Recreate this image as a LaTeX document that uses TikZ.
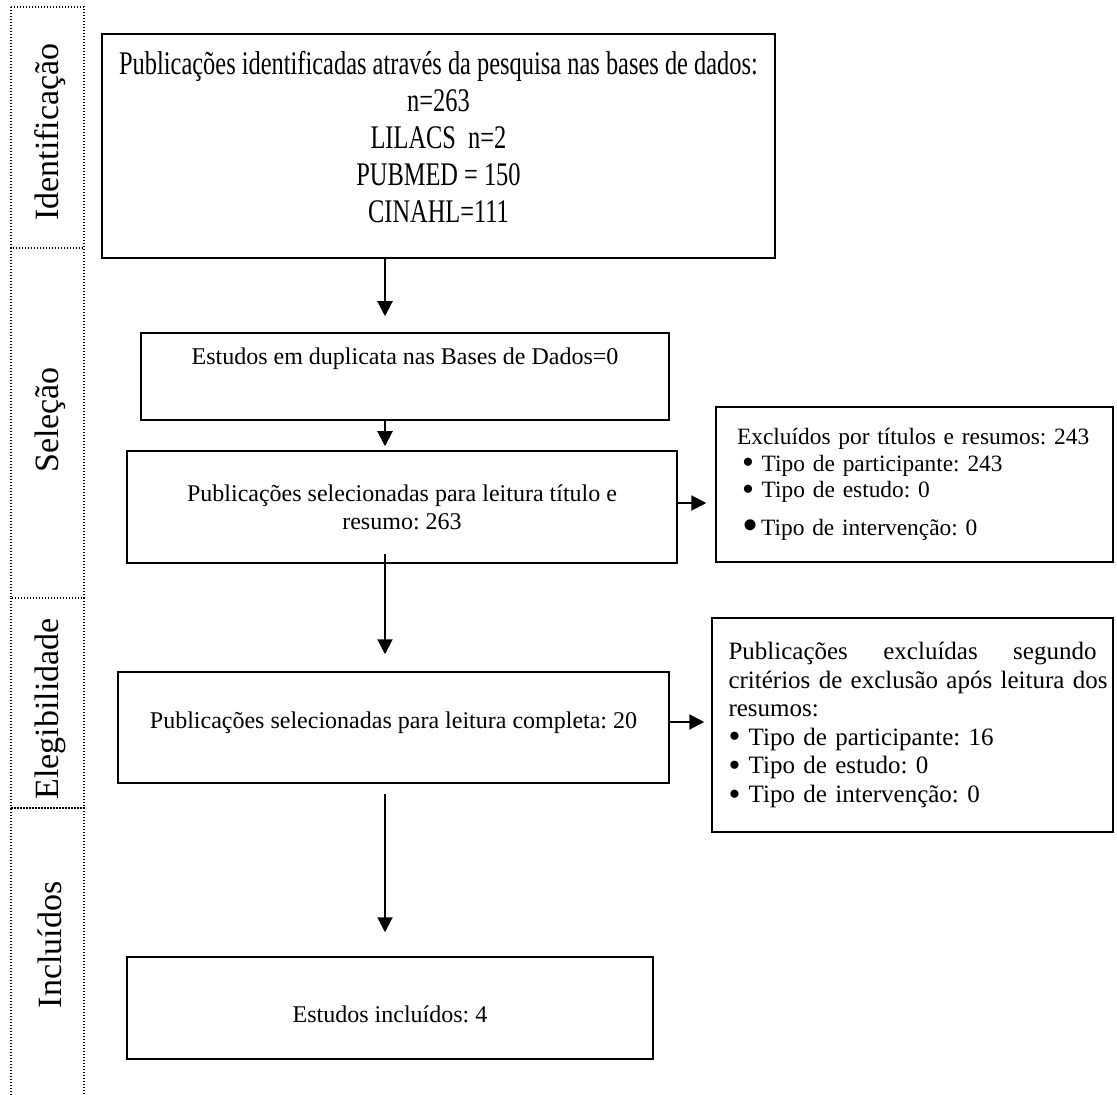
\documentclass[tikz,border=0pt]{standalone}
\usepackage{fontspec}
\setmainfont{Liberation Serif}
\newfontfamily\condserif[FakeStretch=0.74]{Liberation Serif}
\newcommand{\bul}{\raisebox{-1.3pt}[0pt][0pt]{\fontsize{17}{17}\selectfont\textbullet}}
\newcommand{\bigbul}{\raisebox{-2.6pt}[0pt][0pt]{\fontsize{23}{23}\selectfont\textbullet}}
\usetikzlibrary{arrows.meta,positioning}

\begin{document}
\frenchspacing
\begin{tikzpicture}[x=0.5pt,y=-0.5pt,
	box/.style={draw,rectangle,line width=0.75pt,inner sep=0pt,align=center,font=\fontsize{12}{14}\selectfont},
	arr/.style={-{Triangle[length=7.5pt,width=7.5pt]},line width=1pt},
	stage/.style={rotate=90,inner sep=0pt,font=\fontsize{17}{17}\selectfont},
	guide/.style={line width=0.8pt,dash pattern=on 0.6pt off 0.9pt}]
		\useasboundingbox (0,0) rectangle (1117,1095);
		% etapas
		\draw[guide] (11,7) rectangle (84,248);
		\draw[guide] (11,248) rectangle (84,598);
		\draw[guide] (11,598) rectangle (84,808);
		\draw[guide] (11,1095) -- (11,808) -- (84,808) -- (84,1095);
		\node[stage](ident) at (50,132) {Identificação};
		\node[stage](selec) at (50,420) {Seleção};
		\node[stage](eleg) at (50,709) {Elegibilidade};
		\node[stage](incl) at (50,945) {Incluídos};
		% fluxo principal
		\node[box,minimum width=336.5pt,minimum height=112pt,text depth=9pt,font=\condserif\fontsize{16.5}{18.5}\selectfont](b1) at (438.5,146)
			{Publicações identificadas através da pesquisa nas bases de dados:\\ n=263\\ LILACS\ \ n=2\\ PUBMED = 150\\ CINAHL=111};
		\node[box,minimum width=264pt,minimum height=43.5pt,text depth=20pt](b2) at (405,376.5)
			{Estudos em duplicata nas Bases de Dados=0};
		\node[box,minimum width=275pt,minimum height=56pt](b3) at (402,507)
			{Publicações selecionadas para leitura título e\\ resumo: 263};
		\node[box,minimum width=275.5pt,minimum height=55.5pt,text depth=7.5pt](b4) at (393.5,727.5)
			{Publicações selecionadas para leitura completa: 20};
		\node[box,minimum width=263pt,minimum height=51pt,text height=15pt](b5) at (390,1008)
			{Estudos incluídos: 4};
		% exclusoes
		\node[box,align=left,text width=180.5pt,inner xsep=9pt,minimum height=77.5pt,font=\fontsize{11.7}{13.3}\selectfont](ex1) at (914.5,484.5)
			{\mbox{\hspace*{1.5pt}Excluídos por títulos e resumos: 243}\\
			\hspace*{4pt}\bul\ Tipo de participante: 243\\
			\hspace*{4pt}\bul\ Tipo de estudo: 0\\[5.5pt]
			\hspace*{4pt}\bigbul\hspace{1.5pt}Tipo de intervenção: 0};
		\node[box,align=left,text width=184pt,inner xsep=8.25pt,minimum height=107pt,font=\fontsize{12.5}{14.3}\selectfont](ex2) at (912.5,725)
			{Publicações\hfill excluídas\hfill segundo\\
			\mbox{critérios de exclusão após leitura dos}\\
			resumos:\\
			\bul\ Tipo de participante: 16\\
			\bul\ Tipo de estudo: 0\\
			\bul\ Tipo de intervenção: 0};
		\coordinate (axis) at (385,0);
		\path[arr]
		(b1.south -| axis) edge[shorten >=8pt] (b2.north -| axis)
		(b2.south -| axis) edge[shorten >=2pt] (b3.north -| axis)
		(b3.south -| axis) edge[shorten <=-5pt,shorten >=8.5pt] (b4.north -| axis)
		(b4.south -| axis) edge[shorten <=5pt,shorten >=12pt] (b5.north -| axis)
		([yshift=2pt]b3.east) edge[shorten >=4.5pt] ([yshift=2pt]b3.east -| ex1.west)
		([yshift=2.75pt]b4.east) edge[shorten >=3.5pt] ([yshift=2.75pt]b4.east -| ex2.west);
		\end{tikzpicture}
\end{document}
